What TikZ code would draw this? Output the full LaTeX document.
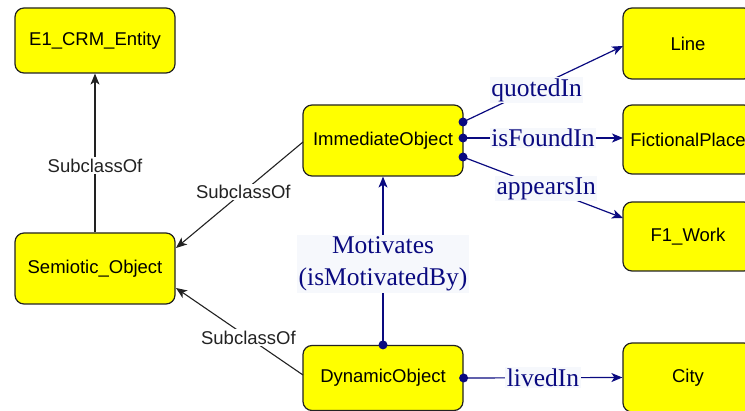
\documentclass[tikz,border=0pt]{standalone}
\usepackage{fontspec}
\setmainfont{Liberation Serif}
\setsansfont{Liberation Sans}
\usetikzlibrary{arrows.meta}
\definecolor{boxfill}{HTML}{FFFF00}
\definecolor{boxline}{HTML}{222222}
\definecolor{rel}{HTML}{0A0A80}
\definecolor{labelbg}{HTML}{F6F8FC}
\tikzset{
  cls/.style={draw=boxline, fill=boxfill, line width=1.2pt, rounded corners=9pt,
    minimum width=160pt, minimum height=68pt, inner sep=0pt,
    font=\sffamily\fontsize{18.5}{20}\selectfont},
  rcls/.style={cls, minimum width=130pt},
  subof/.style={draw=boxline, line width=1.1pt,
    -{Stealth[length=11pt,width=9pt,inset=3pt]}},
  sublabel/.style={fill=white, inner sep=1.5pt, text=boxline,
    font=\sffamily\fontsize{18.5}{20}\selectfont},
  relation/.style={draw=rel, line width=1.2pt,
    -{Stealth[length=11pt,width=9pt,inset=3pt]}},
  srcdot/.style={fill=rel},
  rlabel/.style={fill=labelbg, inner sep=1.5pt, text=rel, align=center,
    font=\fontsize{25.5}{32}\selectfont},
}
\begin{document}
\begin{tikzpicture}[x=1pt,y=-1pt]
\useasboundingbox (0,0) rectangle (745,411);
\begin{scope}
\clip (0,0) rectangle (745,411);

% classes
\node[cls, minimum height=65pt] (e1)  at (95,40.5)  {E1\_CRM\_Entity};
\node[cls, minimum height=71pt] (sem) at (95,268.5) {Semiotic\_Object};
\node[cls, minimum height=71pt] (imm) at (383,140.5) {ImmediateObject};
\node[cls, minimum height=65pt] (dyn) at (383,378)  {DynamicObject};
\node[rcls, minimum height=71pt] (line) at (688,43.5) {Line};
\node[rcls, minimum height=69pt] (fic)  at (688,139.5) {FictionalPlace};
\node[rcls, minimum height=69pt] (work) at (688,236.5) {F1\_Work};
\node[rcls, minimum height=69pt] (city) at (688,377.5) {City};

% subclass links
\draw[subof] (sem.north) -- node[sublabel, pos=0.42] {SubclassOf} (e1.south);
\coordinate (immL) at (303,142);
\coordinate (semR1) at (176,248);
\draw[subof] (immL) -- node[sublabel, pos=0.47] {SubclassOf} (semR1);
\coordinate (dynL) at (303,375);
\coordinate (semR2) at (176,288);
\draw[subof] (dynL) -- node[sublabel, pos=0.43] {SubclassOf} (semR2);

% object properties
\draw[relation] (dyn.north) -- node[rlabel, pos=0.48] {Motivates\\(isMotivatedBy)} (imm.south);
\fill[srcdot] (dyn.north) circle (4.5pt);

\coordinate (immQ) at (463,122);
\coordinate (immF) at (463,138);
\coordinate (immA) at (463,157);
\coordinate (lineW) at (623,46);
\coordinate (ficW) at (623,138);
\coordinate (workW) at (623,218);
\draw[relation] (immQ) -- node[rlabel, pos=0.46, yshift=-3pt] {quotedIn} (lineW);
\draw[relation] (immF) -- node[rlabel, pos=0.5] {isFoundIn} (ficW);
\draw[relation] (immA) -- node[rlabel, pos=0.52] {appearsIn} (workW);
\draw[relation] (dyn.east) -- node[rlabel, pos=0.5] {livedIn} (city.west);
\foreach \p in {immQ, immF, immA, dyn.east}
  \fill[srcdot] (\p) circle (4.5pt);
\end{scope}
\end{tikzpicture}
\end{document}
